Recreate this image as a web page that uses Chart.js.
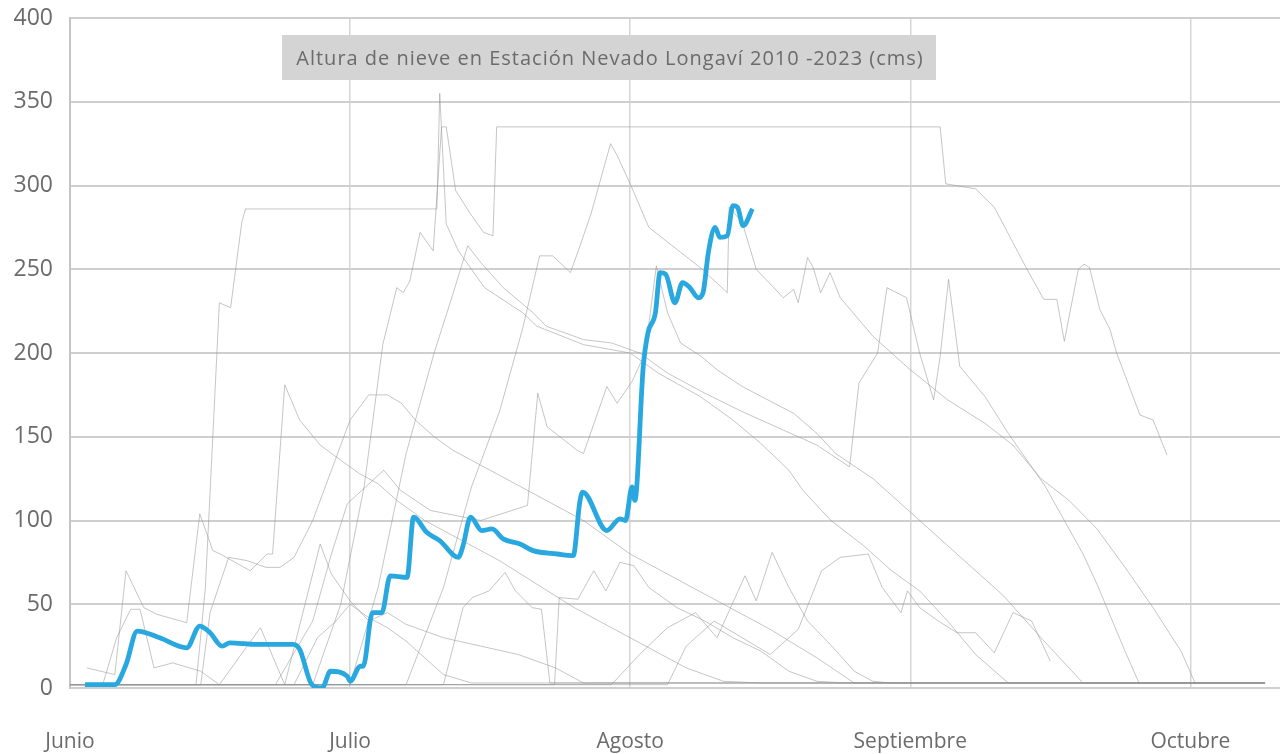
<!DOCTYPE html>
<html>
<head>
<meta charset="utf-8">
<script src="https://cdn.jsdelivr.net/npm/chart.js@4.4.1/dist/chart.umd.min.js"></script>
<style>
  html, body { margin: 0; padding: 0; background: #fff; }
  #wrap { width: 1282px; height: 754px; }
</style>
</head>
<body>
<div id="wrap"><canvas id="nieveChart"></canvas></div>
<script>
// Altura de nieve, Estación Nevado Longaví (cm)
// x = días desde el 1 de junio (meses de 30 días en el eje)

const monthLabels = ['Junio', 'Julio', 'Agosto', 'Septiembre', 'Octubre'];
const monthTicks = [0, 30, 60, 90, 120];
const yTicks = [0, 50, 100, 150, 200, 250, 300, 350, 400];

// 2023 (línea azul)
const d2023 = [1.6, 4.8, 6.0, 7.2, 9.6, 12.5, 13.9, 15.0, 16.3, 17.1, 20.0, 23.9, 24.6, 25.9, 27.0, 27.9, 29.7, 30.0,
  31.1, 31.4, 32.4, 33.4, 34.3, 36.1, 36.8, 38.2, 39.6, 41.6, 42.1, 42.9, 44.1, 45.2, 46.4, 48.2, 49.6, 52.2, 53.9,
  54.6, 54.9, 57.5, 58.9, 59.5, 60.2, 60.5, 61.4, 61.9, 62.7, 63.2, 63.8, 64.8, 65.6, 66.4, 67.3, 67.8, 68.4, 69.1,
  69.6, 70.4, 71.0, 71.5, 72.1, 73.1];
const v2023 = [2, 2, 14, 34, 30, 24, 37, 33, 25, 27, 26, 26, 23, 2, 0, 10, 7, 4,
  13, 13, 45, 45, 67, 66, 102, 93, 88, 78, 85, 102, 94, 95, 89, 86, 82, 80, 79,
  111, 117, 94, 101, 100, 120, 112, 192, 212, 224, 248, 247, 230, 242, 239, 233, 236, 261, 275,
  269, 270, 288, 287, 276, 286];

// años anteriores (líneas grises)
const d2010 = [0, 13.5, 14.5, 16.0, 17.2, 18.4, 18.8, 39.3, 39.6, 40.3, 41.6, 44.4, 48.5, 50.0, 55.0, 60.0, 63.0, 67.5,
  71.0, 74.0, 77.0, 78.5, 81.5, 85.0, 88.0, 91.0, 94.0, 97.0, 100.5, 128];
const v2010 = [2, 2, 60, 230, 227, 278, 286, 286, 355, 277, 261, 239, 224, 216, 205, 200, 188, 174,
  160, 146, 130, 118, 100, 85, 70, 58, 40, 20, 3, 3];

const d2011 = [0, 26, 29, 31.5, 33.5, 35.0, 35.7, 36.4, 37.5, 38.9, 39.8, 40.3, 41.3, 42.9, 44.3, 45.3, 45.7, 93.2, 93.8,
  97, 99, 102.5, 104.3, 105.7, 106.5, 108, 108.6, 109.2, 110.3, 111.4, 112.1, 114.6, 116, 117.5];
const v2011 = [2, 2, 50, 120, 205, 239, 236, 243, 272, 261, 335, 335, 297, 283, 272, 270, 335, 335, 301,
  298, 287, 250, 232, 232, 207, 250, 253, 251, 226, 214, 200, 163, 160, 139];

const d2012 = [0, 36, 40, 43, 46, 48.5, 50.3, 51.7, 53.6, 54.5, 55.8, 57.2, 57.9, 58.6, 60, 62, 67.5, 70.4, 70.6, 72, 73.5,
  76.4, 77.5, 78, 79, 79.6, 80.4, 81.4, 82.5, 86, 90, 94, 98, 101, 104, 107, 110, 113, 116, 119, 120.5, 128];
const v2012 = [2, 2, 60, 120, 165, 215, 258, 258, 248, 262, 283, 311, 325, 318, 301, 275, 251, 236, 287, 278, 250,
  233, 238, 230, 257, 251, 236, 248, 233, 210, 190, 172, 158, 145, 125, 112, 95, 72, 48, 22, 3, 3];

const d2013 = [0, 30, 33, 36, 39, 41, 42.6, 44, 46.4, 49.6, 51, 55, 58, 61, 64, 68, 72, 76, 80, 83.5, 84.5, 86.5, 87.5,
  89.6, 91, 92.5, 93.2, 94.1, 95.3, 98, 100.5, 102, 104.5, 106.5, 108.5, 110, 111.5, 113, 114.5, 128];
const v2013 = [2, 2, 60, 140, 200, 235, 264, 254, 239, 224, 216, 208, 206, 200, 188, 176, 165, 155, 145, 132, 182, 200, 239,
  233, 200, 172, 198, 244, 192, 174, 152, 140, 120, 100, 80, 62, 42, 22, 3, 3];

const d2014 = [1.8, 4.8, 6.0, 7.9, 9.3, 12.5, 13.9, 15.3, 16.1, 19.3, 21.1, 21.7, 23.0, 24.6, 26.8, 29, 31, 33, 35, 38,
  42, 46, 50, 54, 58, 62, 66, 70, 74, 128];
const v2014 = [12, 8, 70, 48, 44, 39, 104, 82, 80, 70, 80, 80, 181, 160, 145, 136, 128, 122, 112, 100,
  88, 76, 62, 48, 36, 24, 12, 4, 3, 3];

const d2015 = [0, 22, 26, 28, 29.7, 33.6, 35.4, 38.6, 44, 49, 50.1, 51.1, 54.3, 55, 57.5, 58.6, 60.2, 61.6, 62.8, 64.0,
  65.4, 67.6, 69.3, 72, 77.5, 80, 82, 86, 89, 92, 96, 100, 104, 108.5, 128];
const v2015 = [2, 2, 40, 80, 110, 130, 118, 106, 100, 109, 176, 156, 142, 140, 180, 170, 183, 200, 252, 224,
  206, 198, 190, 180, 164, 152, 140, 125, 110, 95, 75, 55, 30, 3, 3];

const d2016 = [0, 40, 42.1, 43.1, 44.9, 46.6, 47.7, 49.5, 50.5, 51.4, 128];
const v2016 = [2, 2, 48, 54, 58, 69, 58, 48, 47, 3, 3];

const d2017 = [0, 51.9, 52.4, 54.4, 56.1, 57.4, 58.9, 60.4, 62, 65, 68, 71, 74, 77, 80, 83, 128];
const v2017 = [2, 2, 54, 53, 70, 58, 75, 73, 60, 48, 40, 30, 22, 10, 4, 3, 3];

const d2018 = [0, 58, 61, 64, 67, 69.3, 72.3, 73.5, 75.2, 77, 79, 81.6, 84, 86, 88, 90, 92, 128];
const v2018 = [2, 2, 20, 36, 45, 30, 67, 52, 81, 60, 40, 25, 10, 4, 3, 3, 3, 3];

const d2019 = [0, 24, 26.5, 28.5, 30.0, 32, 34, 36, 38, 40, 43, 128];
const v2019 = [2, 2, 30, 40, 50, 42, 36, 28, 18, 8, 3, 3];

const d2020 = [0, 64, 66, 69, 72, 75, 78, 80.5, 82.5, 85.5, 87, 89, 89.7, 91, 93, 95, 97, 99, 101, 103, 105];
const v2020 = [2, 2, 25, 40, 30, 20, 35, 70, 78, 80, 60, 45, 58, 48, 40, 33, 33, 21, 45, 40, 16];

const d2021 = [1.5, 3.5, 5.0, 6.5, 7.5, 9.0, 11, 14, 16, 20.4, 23, 26.8, 28, 30, 32, 34, 36, 40, 44, 48, 52, 55, 128];
const v2021 = [2, 2, 30, 47, 47, 12, 15, 10, 2, 36, 2, 86, 68, 52, 40, 45, 38, 30, 25, 20, 12, 3, 3];

const d2022 = [1.5, 14, 15, 17, 19, 21, 22.5, 24, 26, 28, 30, 32, 34, 35.5, 37, 39, 41, 45, 50, 55, 60, 65, 70, 75, 80, 84, 128];
const v2022 = [2, 2, 45, 78, 76, 72, 72, 78, 100, 130, 160, 175, 175, 170, 160, 150, 142, 130, 115, 100, 80, 65, 50, 35, 18, 3, 3];

const grayYears = [
  [d2010, v2010], [d2011, v2011], [d2012, v2012], [d2013, v2013], [d2014, v2014],
  [d2015, v2015], [d2016, v2016], [d2017, v2017], [d2018, v2018], [d2019, v2019],
  [d2020, v2020], [d2021, v2021], [d2022, v2022]
];

function toPoints(days, vals) {
  return days.map((d, i) => ({ x: d, y: vals[i] }));
}

const textGray = '#6b6b6b';
const fontFamily = "'Open Sans', sans-serif";

// gray box with the title, inside the plot
const titleBox = {
  id: 'titleBox',
  beforeDatasetsDraw(chart) {
    const ctx = chart.ctx;
    const a = chart.chartArea;
    ctx.save();
    ctx.fillStyle = '#d4d4d4';
    ctx.fillRect(a.left + 212, a.top + 17, 654, 45);
    ctx.fillStyle = textGray;
    ctx.font = '20px ' + fontFamily;
    ctx.letterSpacing = '1px';
    ctx.textAlign = 'center';
    ctx.textBaseline = 'middle';
    ctx.fillText('Altura de nieve en Estación Nevado Longaví 2010 -2023 (cms)', a.left + 540, a.top + 41);
    ctx.restore();
  }
};

const datasets = grayYears.map(([d, v], i) => ({
  label: String(2010 + i),
  data: toPoints(d, v),
  borderColor: 'rgba(150,150,150,0.55)',
  borderWidth: 1,
  pointRadius: 0,
  tension: 0,
  order: 2
}));
datasets.push({
  label: '2023',
  data: toPoints(d2023, v2023),
  borderColor: '#29a8e0',
  borderWidth: 4.8,
  pointRadius: 0,
  cubicInterpolationMode: 'monotone',
  order: 1
});

new Chart(document.getElementById('nieveChart'), {
  type: 'line',
  data: { datasets: datasets },
  plugins: [titleBox],
  options: {
    responsive: true,
    maintainAspectRatio: false,
    animation: false,
    layout: { padding: { top: 18, right: 2, left: 0, bottom: 0 } },
    plugins: {
      legend: { display: false },
      tooltip: { enabled: false }
    },
    scales: {
      x: {
        type: 'linear',
        min: 0,
        max: 129.6,
        afterBuildTicks: axis => { axis.ticks = monthTicks.map(v => ({ value: v })); },
        afterFit: axis => { axis.height = 66; },
        grid: { color: '#d6d6d6', lineWidth: 1.5, drawTicks: false },
        border: { display: false },
        ticks: {
          color: textGray,
          padding: 41,
          font: { family: fontFamily, size: 21 },
          maxRotation: 0,
          callback: v => monthLabels[monthTicks.indexOf(v)]
        }
      },
      y: {
        min: 0,
        max: 400,
        afterBuildTicks: axis => { axis.ticks = yTicks.map(v => ({ value: v })); },
        afterFit: axis => {
          axis.width = 70;
          axis.paddingTop = 0;
          axis.paddingBottom = 0;
        },
        grid: { color: '#cfcfcf', lineWidth: 2, drawTicks: false },
        border: { display: true, color: '#c4c4c4', width: 2 },
        ticks: {
          color: textGray,
          padding: 17,
          font: { family: fontFamily, size: 23 }
        }
      }
    }
  }
});
</script>
</body>
</html>
